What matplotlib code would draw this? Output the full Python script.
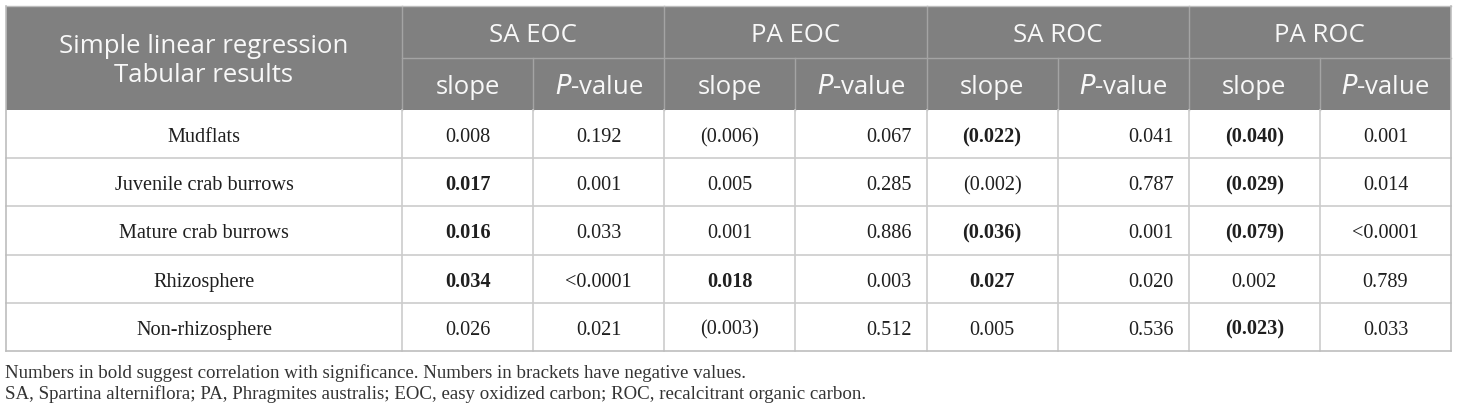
import matplotlib
matplotlib.use('Agg')
import matplotlib.pyplot as plt
from matplotlib.patches import Rectangle

# 数据
groups = ['SA EOC', 'PA EOC', 'SA ROC', 'PA ROC']
sub_cols = ['slope', '$\\it{P}$-value']
row_labels = ['Mudflats', 'Juvenile crab burrows', 'Mature crab burrows',
              'Rhizosphere', 'Non-rhizosphere']
sa_eoc_slope = ['0.008', '0.017', '0.016', '0.034', '0.026']
sa_eoc_p = ['0.192', '0.001', '0.033', '<0.0001', '0.021']
pa_eoc_slope = ['(0.006)', '0.005', '0.001', '0.018', '(0.003)']
pa_eoc_p = ['0.067', '0.285', '0.886', '0.003', '0.512']
sa_roc_slope = ['(0.022)', '(0.002)', '(0.036)', '0.027', '0.005']
sa_roc_p = ['0.041', '0.787', '0.001', '0.020', '0.536']
pa_roc_slope = ['(0.040)', '(0.029)', '(0.079)', '0.002', '(0.023)']
pa_roc_p = ['0.001', '0.014', '<0.0001', '0.789', '0.033']
# 粗体标记 (行, 列)
bold_cells = [(1, 0), (2, 0), (3, 0), (3, 2), (0, 4), (2, 4), (3, 4),
              (0, 6), (1, 6), (2, 6), (4, 6)]
footnotes = ['Numbers in bold suggest correlation with significance. Numbers in brackets have negative values.',
             'SA, Spartina alterniflora; PA, Phragmites australis; EOC, easy oxidized carbon; ROC, recalcitrant organic carbon.']

columns = [sa_eoc_slope, sa_eoc_p, pa_eoc_slope, pa_eoc_p,
           sa_roc_slope, sa_roc_p, pa_roc_slope, pa_roc_p]
col_align = ['center', 'center', 'center', 'right', 'center', 'right', 'center', 'center']

# 布局 (像素)
W, H = 1460, 414
left, right = 6, 1451
first_w = 396
top, head_mid, head_bot = 7, 59, 111
row_h = 48.2
n_rows = len(row_labels)
data_w = (right - left - first_w) / len(columns)
col_x = [left + first_w + i * data_w for i in range(len(columns) + 1)]

head_bg = '#808080'
head_line = '#a4a4a4'
body_line = '#cccccc'
txt_col = '#1f1f1f'

fig = plt.figure(figsize=(W / 100, H / 100), dpi=100)
ax = fig.add_axes([0, 0, 1, 1])
ax.set_xlim(0, W)
ax.set_ylim(H, 0)
ax.axis('off')

# 表头
ax.add_patch(Rectangle((left, top), right - left, head_bot - top, color=head_bg, lw=0))
hfont = dict(family=['Open Sans', 'DejaVu Sans'], size=18.5, color='#f8f8f8')
ax.text(left + first_w / 2, (top + head_bot) / 2 + 2,
        'Simple linear regression\nTabular results', ha='center', va='center',
        linespacing=1.2, **hfont)
for g, name in enumerate(groups):
    x0, x1 = col_x[2 * g], col_x[2 * g + 2]
    ax.text((x0 + x1) / 2, (top + head_mid) / 2 + 3, name, ha='center', va='center', **hfont)
    for k in range(2):
        xa, xb = col_x[2 * g + k], col_x[2 * g + k + 1]
        ax.text((xa + xb) / 2, (head_mid + head_bot) / 2 + 3, sub_cols[k],
                ha='center', va='center', **hfont)
# 表头线
ax.plot([col_x[0], right], [head_mid, head_mid], color=head_line, lw=1)
for i, x in enumerate(col_x[:-1]):
    y0 = top if i % 2 == 0 else head_mid
    ax.plot([x, x], [y0, head_bot], color=head_line, lw=1)
ax.plot([left, right], [top, top], color='#bdbdbd', lw=1)

# 表体 (按基线对齐，括号不影响高度)
bfont = dict(family=['Liberation Serif', 'DejaVu Serif'], size=14.6, color=txt_col)
body_bot = head_bot + n_rows * row_h
for r in range(n_rows):
    yb = head_bot + (r + 0.5) * row_h + 7
    ax.text(left + first_w / 2, yb, row_labels[r], ha='center', va='baseline', **bfont)
    for c, vals in enumerate(columns):
        w = 'bold' if (r, c) in bold_cells else 'normal'
        if col_align[c] == 'right':
            x, ha = col_x[c + 1] - 15, 'right'
        else:
            x, ha = (col_x[c] + col_x[c + 1]) / 2, 'center'
        ax.text(x, yb, vals[r], ha=ha, va='baseline', weight=w, **bfont)
    if r > 0:
        y = head_bot + r * row_h
        ax.plot([left, right], [y, y], color=body_line, lw=1.2)
for x in col_x[:-1]:
    ax.plot([x, x], [head_bot, body_bot], color=body_line, lw=1.2)
ax.plot([left, left], [top, body_bot], color='#bdbdbd', lw=1.2)
ax.plot([right, right], [top, body_bot], color='#bdbdbd', lw=1.2)
ax.plot([left, right], [body_bot, body_bot], color='#bdbdbd', lw=1.2)

# 注释
ffont = dict(family=['Liberation Serif', 'DejaVu Serif'], size=13.6, color='#333333')
ax.text(left - 1, 373, footnotes[0], ha='left', va='center', **ffont)
ax.text(left - 1, 394, footnotes[1], ha='left', va='center', **ffont)

fig.savefig('out.png', dpi=100)
